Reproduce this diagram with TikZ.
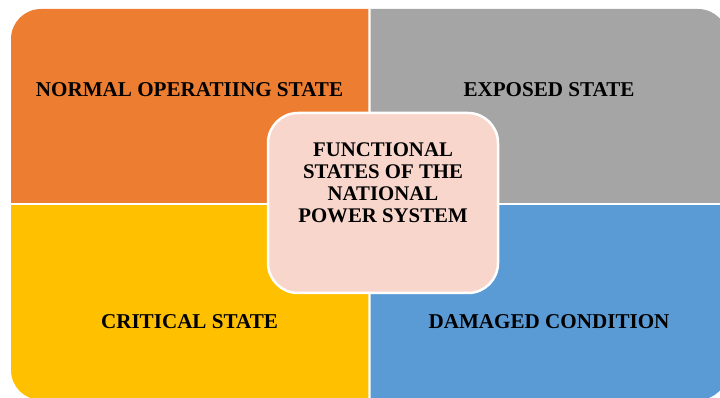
\documentclass[tikz,border=0pt]{standalone}
\usepackage{fontspec}
\setmainfont{Liberation Serif}
\definecolor{qorange}{HTML}{ED7D31}
\definecolor{qgray}{HTML}{A5A5A5}
\definecolor{qyellow}{HTML}{FFC000}
\definecolor{qblue}{HTML}{5B9BD5}
\definecolor{qpink}{HTML}{F8D6CB}
\begin{document}
\begin{tikzpicture}[x=1pt,y=1pt,
  quadlabel/.style={anchor=base,font=\bfseries\fontsize{21.1}{22}\selectfont,inner sep=0pt},
  hubbox/.style={draw=white,line width=2.5pt,fill=qpink,rounded corners=30pt,
    minimum width=230pt,minimum height=180pt},
  hublabel/.style={align=center,font=\bfseries\fontsize{20.8}{22}\selectfont,inner sep=0pt}]
\useasboundingbox (0,0) rectangle (720,398);
% outer rounded panel split into four coloured quadrants
\def\panel{(11,-2) [rounded corners=30pt] rectangle (728,389)}
\begin{scope}
  \clip (0,195) rectangle (368.3,400);
  \fill[qorange] \panel;
\end{scope}
\begin{scope}
  \clip (370.7,195) rectangle (740,400);
  \fill[qgray] \panel;
\end{scope}
\begin{scope}
  \clip (0,-10) rectangle (368.3,192);
  \fill[qyellow] \panel;
\end{scope}
\begin{scope}
  \clip (370.7,-10) rectangle (740,192);
  \fill[qblue] \panel;
\end{scope}
% quadrant labels
\node[quadlabel] (normal) at (189.5,301) {NORMAL OPERATIING STATE};
\node[quadlabel] (exposed) at (549,301) {EXPOSED STATE};
\node[quadlabel] (critical) at (189.5,69) {CRITICAL STATE};
\node[quadlabel] (damaged) at (549,69) {DAMAGED CONDITION};
% central box
\node[hubbox] (hub) at (383,195) {};
\node[hublabel] (hubtext) at (383,215) {FUNCTIONAL\\STATES OF THE\\NATIONAL\\POWER SYSTEM};
\end{tikzpicture}
\end{document}
